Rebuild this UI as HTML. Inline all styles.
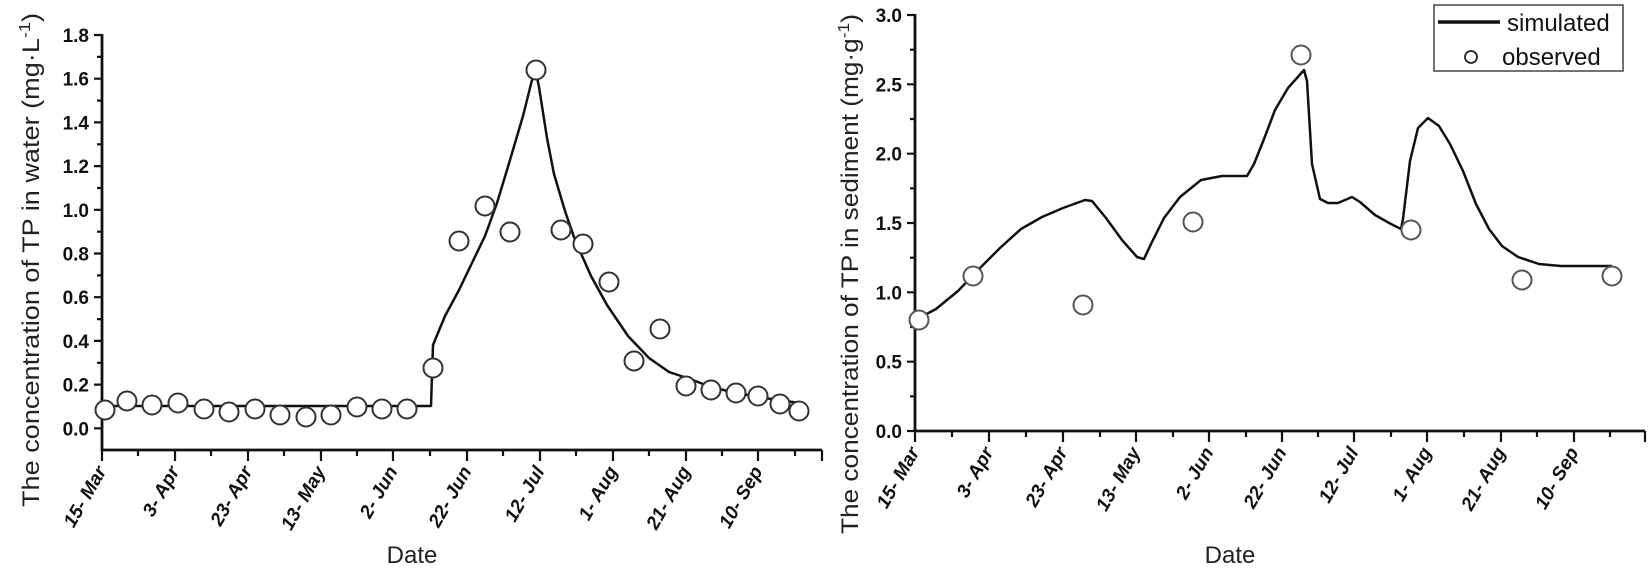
<!DOCTYPE html>
<html><head><meta charset="utf-8"><style>
html,body{margin:0;padding:0;background:#fff;}
svg{display:block;}
text{font-family:"Liberation Sans",Arial,sans-serif;fill:#111;}
.tk{font-size:19px;font-weight:bold;}
.xt{font-size:19px;font-weight:bold;font-style:italic;}
.lab{font-size:24px;fill:#222;}
</style></head><body>
<svg width="1650" height="569" viewBox="0 0 1650 569" xmlns="http://www.w3.org/2000/svg">
<g stroke="#111" stroke-width="2.8" fill="none">
<line x1="102" y1="34" x2="102" y2="451"/>
<line x1="101" y1="450" x2="822" y2="450"/>
<line x1="915" y1="14" x2="915" y2="432"/>
<line x1="914" y1="431" x2="1645" y2="431"/>
</g>
<g stroke="#111" stroke-width="2.2">
<path d="M102 35h-8M102 78.7h-8M102 122.4h-8M102 166.1h-8M102 209.8h-8M102 253.5h-8M102 297.2h-8M102 340.9h-8M102 384.6h-8M102 428.3h-8"/>
<path d="M102 56.9h-5M102 100.6h-5M102 144.3h-5M102 188h-5M102 231.7h-5M102 275.4h-5M102 319.1h-5M102 362.8h-5M102 406.5h-5"/>
<path d="M102 450v11M175 450v11M248 450v11M321 450v11M393 450v11M467 450v11M540 450v11M613 450v11M686 450v11M758 450v11M822 450v11"/>
<path d="M138 450v6M211 450v6M284 450v6M357 450v6M430 450v6M503 450v6M576 450v6M649 450v6M722 450v6M795 450v6"/>
<path d="M915 15h-8M915 84.3h-8M915 153.7h-8M915 223h-8M915 292.3h-8M915 361.7h-8M915 431h-8"/>
<path d="M915 49.7h-5M915 119h-5M915 188.3h-5M915 257.7h-5M915 327h-5M915 396.3h-5"/>
<path d="M915 431v11M989 431v11M1063 431v11M1136 431v11M1209 431v11M1282 431v11M1354 431v11M1427 431v11M1501 431v11M1574 431v11M1645 431v11"/>
<path d="M952 431v6M1026 431v6M1100 431v6M1173 431v6M1246 431v6M1318 431v6M1391 431v6M1464 431v6M1537 431v6M1610 431v6"/>
</g>
<g class="tk" text-anchor="end">
<text x="89" y="42">1.8</text><text x="89" y="85.7">1.6</text><text x="89" y="129.4">1.4</text><text x="89" y="173.1">1.2</text><text x="89" y="216.8">1.0</text><text x="89" y="260.5">0.8</text><text x="89" y="304.2">0.6</text><text x="89" y="347.9">0.4</text><text x="89" y="391.6">0.2</text><text x="89" y="435.3">0.0</text>
</g>
<g class="tk" text-anchor="end">
<text x="902" y="22">3.0</text><text x="902" y="91.3">2.5</text><text x="902" y="160.7">2.0</text><text x="902" y="230">1.5</text><text x="902" y="299.3">1.0</text><text x="902" y="368.7">0.5</text><text x="902" y="438">0.0</text>
</g>
<g class="xt" text-anchor="end">
<text transform="translate(107,471) rotate(-60)">15- Mar</text>
<text transform="translate(180,471) rotate(-60)">3- Apr</text>
<text transform="translate(253,471) rotate(-60)">23- Apr</text>
<text transform="translate(326,471) rotate(-60)">13- May</text>
<text transform="translate(398,471) rotate(-60)">2- Jun</text>
<text transform="translate(472,471) rotate(-60)">22- Jun</text>
<text transform="translate(545,471) rotate(-60)">12- Jul</text>
<text transform="translate(618,471) rotate(-60)">1- Aug</text>
<text transform="translate(691,471) rotate(-60)">21- Aug</text>
<text transform="translate(763,471) rotate(-60)">10- Sep</text>
</g>
<g class="xt" text-anchor="end">
<text transform="translate(920,452) rotate(-60)">15- Mar</text>
<text transform="translate(994,452) rotate(-60)">3- Apr</text>
<text transform="translate(1068,452) rotate(-60)">23- Apr</text>
<text transform="translate(1141,452) rotate(-60)">13- May</text>
<text transform="translate(1214,452) rotate(-60)">2- Jun</text>
<text transform="translate(1287,452) rotate(-60)">22- Jun</text>
<text transform="translate(1359,452) rotate(-60)">12- Jul</text>
<text transform="translate(1432,452) rotate(-60)">1- Aug</text>
<text transform="translate(1506,452) rotate(-60)">21- Aug</text>
<text transform="translate(1579,452) rotate(-60)">10- Sep</text>
</g>
<text class="lab" x="412" y="563" text-anchor="middle">Date</text>
<text class="lab" x="1230" y="563" text-anchor="middle">Date</text>
<text class="lab" transform="translate(39,260) rotate(-90)" text-anchor="middle" textLength="494" lengthAdjust="spacingAndGlyphs">The concentration of TP in water (mg·L<tspan dy="-9" font-size="16">-1</tspan><tspan dy="9">)</tspan></text>
<text class="lab" transform="translate(858,274) rotate(-90)" text-anchor="middle" textLength="520" lengthAdjust="spacingAndGlyphs">The concentration of TP in sediment (mg·g<tspan dy="-9" font-size="16">-1</tspan><tspan dy="9">)</tspan></text>
<path fill="none" stroke="#111" stroke-width="2.5" stroke-linejoin="round" d="M102 406 L429 406 L431 406 L433 345 L445 316 L459 290 L471 265 L485 236 L497 203 L510 160 L523 116 L533 76 L536 72 L539 87 L547 138 L554 174 L565 211 L575 240 L591 276 L607 305 L628 336 L649 358 L669 372 L690 379 L711 387 L732 392 L758 397 L785 401 L800 403"/>
<g fill="#fff" stroke="#333" stroke-width="2">
<circle cx="105" cy="410" r="9.5"/><circle cx="127" cy="401" r="9.5"/><circle cx="152" cy="405" r="9.5"/><circle cx="178" cy="403" r="9.5"/><circle cx="204" cy="409" r="9.5"/><circle cx="229" cy="412" r="9.5"/><circle cx="255" cy="409" r="9.5"/><circle cx="280" cy="415" r="9.5"/><circle cx="306" cy="417" r="9.5"/><circle cx="331" cy="415" r="9.5"/><circle cx="357" cy="407" r="9.5"/><circle cx="382" cy="409" r="9.5"/><circle cx="407" cy="409" r="9.5"/><circle cx="433" cy="368" r="9.5"/><circle cx="459" cy="241" r="9.5"/><circle cx="485" cy="206" r="9.5"/><circle cx="510" cy="232" r="9.5"/><circle cx="536" cy="70" r="9.5"/><circle cx="561" cy="230" r="9.5"/><circle cx="583" cy="244" r="9.5"/><circle cx="609" cy="282" r="9.5"/><circle cx="634" cy="361" r="9.5"/><circle cx="660" cy="329" r="9.5"/><circle cx="686" cy="386" r="9.5"/><circle cx="711" cy="390" r="9.5"/><circle cx="736" cy="393" r="9.5"/><circle cx="758" cy="396" r="9.5"/><circle cx="780" cy="404" r="9.5"/><circle cx="799" cy="411" r="9.5"/>
</g>
<path fill="none" stroke="#111" stroke-width="2.5" stroke-linejoin="round" d="M919 318 L936 309 L958 291 L979 269 L1000 248 L1021 229 L1042 217 L1063 208 L1085 200 L1092 201 L1106 218 L1122 240 L1137 257 L1144 259 L1151 244 L1164 218 L1180 197 L1201 180 L1222 176 L1247 176 L1254 164 L1264 139 L1275 110 L1288 88 L1304 70 L1307 81 L1312 164 L1320 199 L1328 203 L1338 203 L1352 197 L1360 202 L1375 215 L1391 224 L1401 229 L1403 219 L1410 161 L1418 128 L1428 118 L1439 126 L1450 144 L1463 171 L1476 204 L1489 229 L1502 246 L1518 257 L1539 264 L1561 266 L1612 266"/>
<g fill="#fff" stroke="#555" stroke-width="2">
<circle cx="919" cy="320" r="9.5"/><circle cx="973" cy="276" r="9.5"/><circle cx="1083" cy="305" r="9.5"/><circle cx="1193" cy="222" r="9.5"/><circle cx="1301" cy="55" r="9.5"/><circle cx="1411" cy="230" r="9.5"/><circle cx="1522" cy="280" r="9.5"/><circle cx="1612" cy="276" r="9.5"/>
</g>
<rect x="1434" y="5" width="189" height="66" fill="#fff" stroke="#444" stroke-width="1.5"/>
<line x1="1438" y1="22" x2="1500" y2="22" stroke="#111" stroke-width="3.5"/>
<text x="1507" y="31" font-size="24">simulated</text>
<circle cx="1471" cy="57" r="6" fill="#fff" stroke="#222" stroke-width="1.8"/>
<text x="1502" y="65" font-size="24">observed</text>
</svg>
</body></html>
